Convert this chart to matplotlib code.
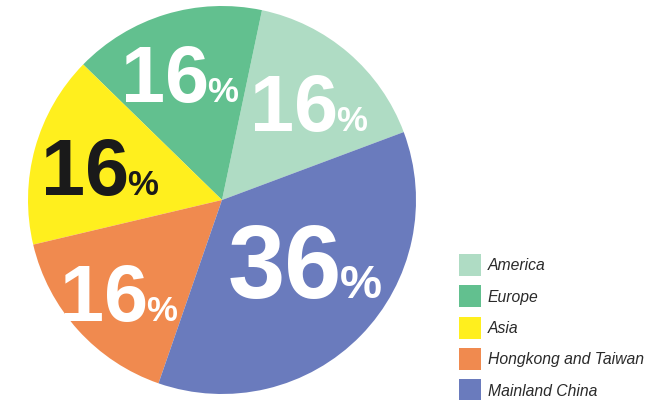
import matplotlib.pyplot as plt

# data
regions = ['America', 'Europe', 'Asia', 'Hongkong and Taiwan', 'Mainland China']
shares = [16, 16, 16, 16, 36]
colors = ['#afdcc4', '#62c08f', '#ffef1e', '#f08a4f', '#6a7bbd']
label_colors = ['white', 'white', '#1a1a1a', 'white', 'white']

# label anchors (join of number and "%", on the baseline), pie units
label_pos = [(0.588, 0.356), (-0.077, 0.505), (-0.490, 0.026),
             (-0.392, -0.624), (0.608, -0.505)]
num_size = [57, 57, 57, 57, 74]
pct_size = [25, 25, 25, 25, 34]

W, H = 664, 400
cx, cy, r = 222, 200, 194

fig = plt.figure(figsize=(W / 100, H / 100), dpi=100)
ax = fig.add_axes([(cx - r) / W, (H - cy - r) / H, 2 * r / W, 2 * r / H])

wedges, _ = ax.pie(shares, colors=colors, startangle=20.5, counterclock=True,
                   radius=1.0, wedgeprops=dict(linewidth=0))
ax.set_xlim(-1, 1)
ax.set_ylim(-1, 1)
ax.set_aspect('equal')
ax.axis('off')
for w in wedges:
    w.set_clip_on(False)

font = 'Liberation Sans'
for v, (x, y), c, ns, ps in zip(shares, label_pos, label_colors, num_size, pct_size):
    ax.text(x + 0.012, y, str(v), ha='right', va='baseline', color=c,
            fontsize=ns, fontweight='bold', family=font)
    ax.text(x, y, '%', ha='left', va='baseline', color=c,
            fontsize=ps, fontweight='bold', family=font)

leg = fig.legend(wedges, regions, loc='upper left',
                 bbox_to_anchor=(459 / W, 1 - 254 / H),
                 frameon=False, borderpad=0, borderaxespad=0,
                 handlelength=1.32, handleheight=1.65, handletextpad=0.42,
                 labelspacing=0.56,
                 prop=dict(family=font, style='italic', size=12))
for t in leg.get_texts():
    t.set_color('#2a2a2a')
    t.set_fontsize(11.3)

fig.savefig('out.png', dpi=100, facecolor='white')
